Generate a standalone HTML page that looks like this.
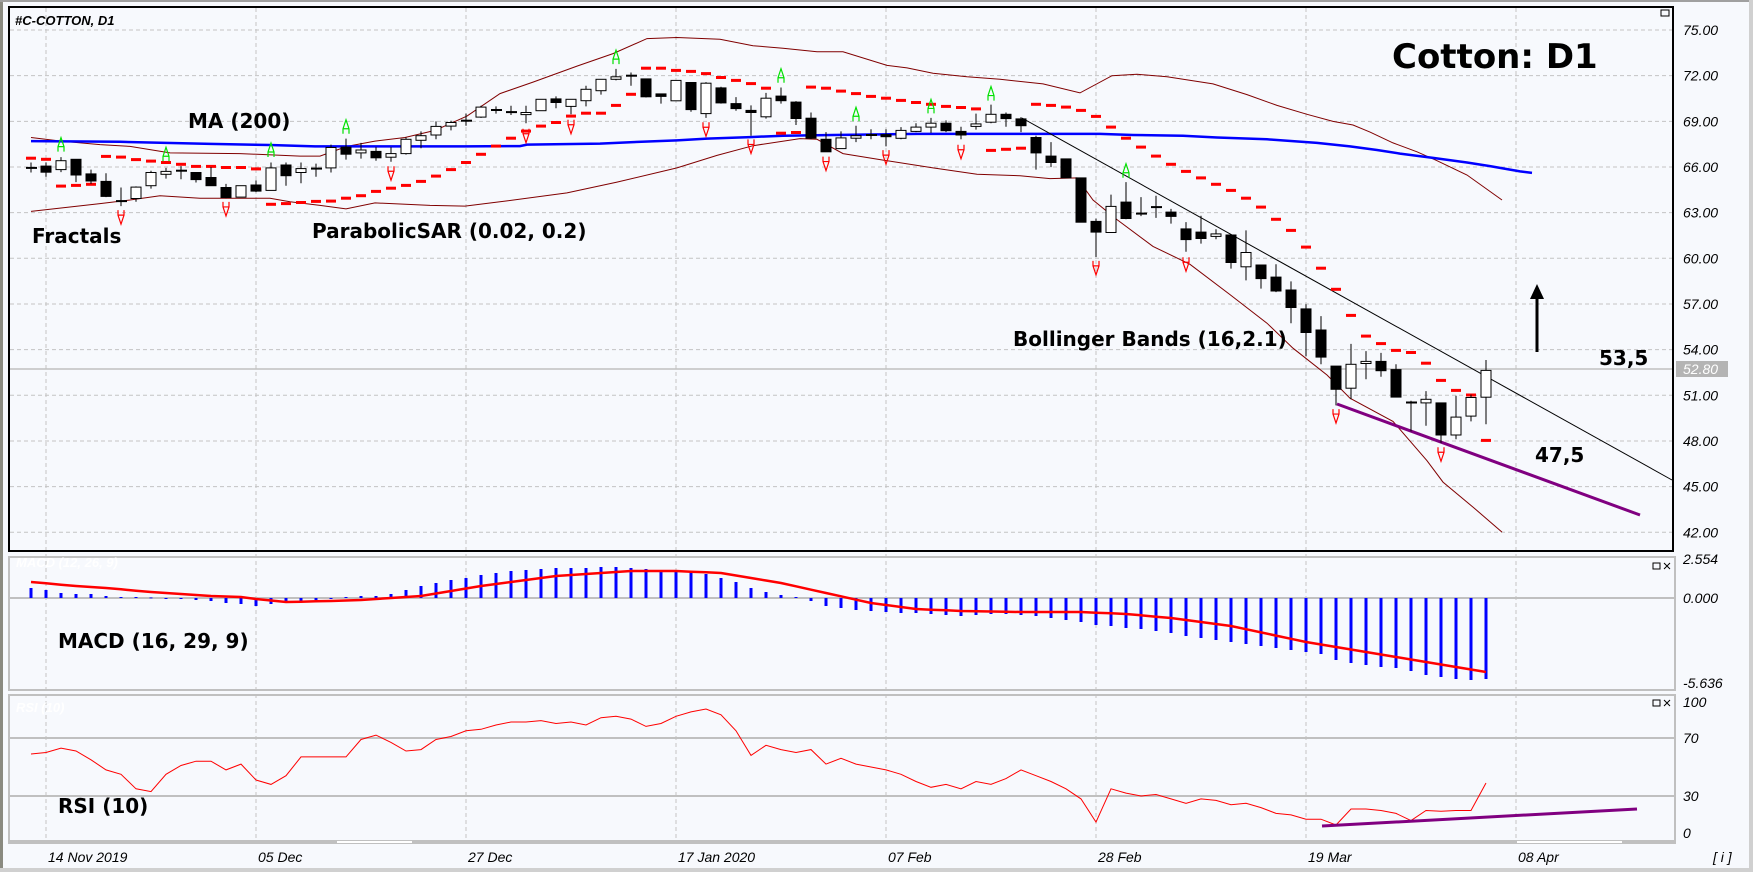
<!DOCTYPE html>
<html><head><meta charset="utf-8">
<style>
html,body{margin:0;padding:0;background:#f7f9fd;}
svg{display:block}
.ax{font-family:"Liberation Sans",sans-serif;font-style:italic;font-size:14px;fill:#000}
.big{font-family:"DejaVu Sans",sans-serif;font-weight:bold;font-size:20px;fill:#000}
</style></head>
<body>
<svg id="s" width="1753" height="872" xmlns="http://www.w3.org/2000/svg"></svg>
<script>
const S=document.getElementById('s');let h='';
const X=i=>31+15*i, D=v=>v/2.8;
h+='<rect x="0" y="0" width="1753" height="872" fill="#f7f9fd"/>';
h+='<rect x="0" y="0" width="3" height="872" fill="#8a8a80"/><rect x="0" y="0" width="1753" height="2" fill="#a0a0a0"/>';
h+='<rect x="0" y="868" width="1753" height="4" fill="#d0d0d0"/><rect x="1749" y="0" width="4" height="872" fill="#d0d0d0"/>';
// grids
const gx=[46,256,466,676,886,1096,1306,1516];
for(let p=75;p>=42;p-=3){const y=30+(75-p)*15.22;h+=`<line x1="10" x2="1672" y1="${y}" y2="${y}" stroke="#c4c4c4" stroke-dasharray="4,3"/>`;
h+=`<text class="ax" x="1683" y="${y+5}">${p.toFixed(2)}</text>`;}
gx.forEach(x=>{h+=`<line x1="${x}" x2="${x}" y1="8" y2="843" stroke="#c4c4c4" stroke-dasharray="4,3"/>`;});
// panels
h+='<rect x="9" y="557" width="1666" height="133" fill="none" stroke="#c0c0c0" stroke-width="2"/>';
h+='<rect x="9" y="695" width="1666" height="148" fill="none" stroke="#c0c0c0" stroke-width="2"/>';
h+='<line x1="10" x2="1674" y1="598" y2="598" stroke="#c0c0c0" stroke-width="2"/>';
h+='<line x1="10" x2="1674" y1="738" y2="738" stroke="#c0c0c0" stroke-width="2"/><line x1="10" x2="1674" y1="796" y2="796" stroke="#c0c0c0" stroke-width="2"/>';
h+='<rect x="10" y="840" width="1664" height="4" fill="#c0c0c0"/><rect x="337" y="841" width="75" height="2" fill="#fff"/><rect x="1517" y="841" width="105" height="2" fill="#fff"/>';
// price line
h+='<line x1="10" x2="1672" y1="369" y2="369" stroke="#c0c0c0" stroke-width="1.5"/>';
h+='<rect x="1676" y="361" width="52" height="16" fill="#b4b4b4"/><text class="ax" x="1683" y="374" fill="#fff" style="fill:#fff">52.80</text>';
// bollinger
const bu=[[31,385],[61,395],[100,405],[130,410],[170,428],[240,430],[300,437],[320,437],[347,410],[375,395],[405,385],[435,365],[467,325],[500,262],[533,230],[577,185],[613,150],[647,108],[677,105],[720,110],[753,128],[783,135],[817,145],[843,145],[887,183],[907,190],[933,205],[967,215],[1000,222],[1043,235],[1080,260],[1112,212],[1137,208],[1167,215],[1213,235],[1247,265],[1277,295],[1307,320],[1333,340],[1353,350],[1370,370],[1393,400],[1417,425],[1437,450],[1467,490],[1502,560]];
const bl=[[31,592],[100,570],[130,560],[160,548],[200,555],[270,555],[290,565],[320,575],[346,585],[375,568],[430,575],[465,577],[500,565],[567,540],[617,510],[677,470],[717,435],[753,408],[800,388],[817,390],[843,430],[887,450],[933,470],[977,488],[1020,492],[1050,500],[1077,498],[1093,560],[1117,615],[1153,690],[1190,740],[1230,825],[1267,905],[1293,975],[1327,1050],[1350,1115],[1393,1180],[1427,1290],[1443,1350],[1473,1420],[1502,1490]];
const pl=a=>a.map(p=>p[0]+','+D(p[1]).toFixed(1)).join(' ');
h+=`<polyline points="${pl(bu)}" fill="none" stroke="#800000" stroke-width="1"/>`;
h+=`<polyline points="${pl(bl)}" fill="none" stroke="#800000" stroke-width="1"/>`;
const ma=[[31,395],[120,397],[210,403],[270,406],[315,410],[465,410],[520,409],[527,405],[600,402],[633,398],[677,393],[707,388],[750,384],[783,380],[833,378],[917,375],[1100,375],[1133,378],[1183,380],[1217,385],[1267,390],[1317,400],[1350,410],[1377,420],[1400,430],[1433,442],[1467,455],[1490,465],[1520,480],[1532,484]];
h+=`<polyline points="${pl(ma)}" fill="none" stroke="#0000ff" stroke-width="2.5"/>`;
// trend lines
h+='<line x1="1022" y1="118" x2="1672" y2="480" stroke="#000" stroke-width="1"/>';
h+='<line x1="1337" y1="404" x2="1640" y2="515" stroke="#800080" stroke-width="3"/>';
// candles
const C=[[468,472,455,483,'c'],[465,482,455,495,'b'],[450,475,440,482,'w'],[446,490,446,510,'b'],[487,507,475,515,'b'],[508,550,485,552,'b'],[561,565,525,577,'c'],[524,556,522,565,'w'],[483,520,478,528,'w'],[480,488,470,500,'w'],[476,480,465,502,'c'],[483,503,483,511,'b'],[497,520,468,520,'b'],[525,553,515,555,'b'],[520,552,520,552,'w'],[518,535,505,538,'b'],[470,533,455,533,'w'],[462,492,455,520,'b'],[472,483,455,513,'w'],[470,474,458,495,'c'],[413,470,405,483,'w'],[412,432,388,447,'b'],[420,428,400,444,'w'],[424,442,412,450,'b'],[430,440,412,453,'w'],[390,430,385,433,'w'],[380,393,368,415,'w'],[354,378,340,390,'w'],[343,353,338,365,'w'],[336,340,318,352,'c'],[300,328,296,330,'w'],[306,310,298,318,'c'],[312,316,296,322,'c'],[315,321,296,345,'w'],[278,310,278,310,'w'],[277,287,270,303,'b'],[278,298,278,320,'w'],[250,282,240,298,'w'],[222,254,222,265,'w'],[215,222,193,225,'w'],[210,214,203,240,'c'],[221,271,221,273,'b'],[263,270,263,290,'b'],[225,282,225,282,'w'],[231,307,231,313,'b'],[233,318,230,330,'w'],[246,288,243,290,'b'],[290,304,272,310,'b'],[309,315,295,380,'b'],[275,327,260,332,'w'],[269,282,245,290,'b'],[286,332,283,350,'b'],[331,387,315,390,'b'],[390,425,370,425,'b'],[386,416,368,416,'w'],[380,387,352,398,'w'],[376,380,362,390,'c'],[377,383,362,410,'b'],[365,387,356,390,'w'],[356,368,345,370,'w'],[345,356,330,372,'w'],[345,366,337,370,'b'],[368,378,355,390,'b'],[347,354,318,363,'w'],[320,342,293,345,'w'],[320,332,315,355,'b'],[333,352,328,370,'b'],[385,428,380,475,'b'],[437,455,398,468,'b'],[445,498,445,498,'b'],[498,622,498,622,'b'],[620,650,612,720,'b'],[578,651,545,651,'w'],[566,612,510,614,'b'],[596,600,552,605,'c'],[578,582,548,610,'c'],[594,606,585,626,'b'],[641,671,622,705,'b'],[650,668,604,682,'b'],[655,662,642,670,'w'],[658,735,658,752,'b'],[707,747,645,785,'w'],[742,780,742,808,'b'],[776,815,740,818,'b'],[812,861,788,905,'b'],[865,931,852,998,'b'],[924,1000,885,1020,'b'],[1025,1090,1025,1135,'b'],[1020,1087,963,1118,'w'],[1012,1018,983,1062,'w'],[1012,1038,988,1055,'b'],[1035,1112,1020,1112,'b'],[1125,1129,1122,1208,'c'],[1118,1128,1095,1192,'w'],[1128,1218,1128,1240,'b'],[1168,1218,1108,1230,'w'],[1113,1165,1105,1180,'w'],[1037,1112,1008,1188,'w']];
// SAR
const SAR=[443,446,521,519,516,438,440,447,451,455,460,466,466,469,469,473,572,570,567,564,563,555,548,536,527,519,508,493,475,455,432,409,387,367,353,343,325,317,317,295,264,191,191,197,200,206,217,225,234,247,373,371,244,247,255,262,270,275,281,287,292,298,301,305,421,418,415,292,295,300,309,326,356,387,412,437,460,480,498,516,533,555,580,614,645,692,751,810,883,941,962,981,987,1017,1065,1093,1106,1233];
SAR.forEach((v,i)=>{h+=`<rect x="${X(i)-5}" y="${(D(v)-1.5).toFixed(1)}" width="10" height="3" fill="#ff0000"/>`;});
C.forEach((c,i)=>{const x=X(i);let bt=D(c[0]),bb=D(c[1]),wt=D(c[2]),wb=D(c[3]);
h+=`<line x1="${x}" x2="${x}" y1="${wt.toFixed(1)}" y2="${wb.toFixed(1)}" stroke="#000"/>`;
if(c[4]=='c'){h+=`<rect x="${x-5}" y="${((bt+bb)/2-1).toFixed(1)}" width="11" height="2" fill="#000"/>`;}
else h+=`<rect x="${x-5}" y="${bt.toFixed(1)}" width="10" height="${Math.max(1,bb-bt).toFixed(1)}" fill="${c[4]=='w'?'#fff':'#000'}" stroke="#000"/>`;});
// fractals
const up=[[2,405],[9,432],[16,420],[21,355],[39,160],[50,212],[55,320],[60,298],[64,262],[73,478]];
const dn=[[6,608],[13,585],[24,485],[33,380],[36,355],[45,362],[48,410],[53,458],[57,440],[62,425],[71,750],[77,740],[87,1165],[94,1272]];
up.forEach(([i,v])=>{const x=X(i),y=D(v);h+=`<path d="M${x-3},${y+7} L${x-3},${y+2} L${x},${y-7} L${x+3},${y+2} L${x+3},${y+7} M${x-3},${y+2} L${x+3},${y+2}" fill="none" stroke="#00e000" stroke-width="1.2"/>`;});
dn.forEach(([i,v])=>{const x=X(i),y=D(v);h+=`<path d="M${x-3},${y-7} L${x-3},${y-2} L${x},${y+7} L${x+3},${y-2} L${x+3},${y-7} M${x-3},${y-2} L${x+3},${y-2}" fill="none" stroke="#ff0000" stroke-width="1.2"/>`;});
// main frame
h+='<rect x="9" y="7" width="1664" height="544" fill="none" stroke="#000" stroke-width="2"/>';
h+='<rect x="1661" y="10" width="8" height="6" fill="none" stroke="#000"/>';
// MACD
function interp(pts,n){const o=[];for(let i=0;i<n;i++){let k=0;while(k<pts.length-2&&pts[k+1][0]<i)k++;const [a,va]=pts[k],[b,vb]=pts[k+1];o.push(i<=a?va:(i>=b?vb:va+(vb-va)*(i-a)/(b-a)));}return o;}
const hist=[10,8,5,4,4,2,1,1,0.5,-1,-1,-2,-3,-5,-6,-8,-6,-5,-3,-2,-1,1,2,2,4,8,12,15,18,20,23,25,27,28,29,30,30,30,31,31,30,29,28,28,26,24,20,16,10,6,3,1,-3,-8,-10,-12,-13,-14,-15,-15,-16,-17,-18,-17,-16,-16,-17,-18,-20,-22,-24,-27,-28,-30,-31,-33,-35,-38,-40,-42,-44,-46,-48,-50,-52,-54,-56,-62,-65,-67,-69,-70,-73,-77,-79,-81,-82,-81];
hist.forEach((v,i)=>{const x=X(i);const y=v>0?598-v:598;h+=`<rect x="${x-1.5}" y="${y}" width="3" height="${Math.max(0.8,Math.abs(v))}" fill="#0000ff"/>`;});
const sig=interp([[0,16],[3,12],[5,10],[8,6],[10,4],[12,2],[14,1],[15,-1],[17,-4],[20,-3],[22,-2],[24,0],[26,2],[28,7],[30,12],[31,14],[35,22],[40,27],[43,27],[46,25],[50,15],[53,5],[56,-5],[59,-11],[62,-13],[66,-14],[70,-14],[73,-16],[76,-20],[80,-28],[85,-44],[97,-74]],98);
h+=`<polyline points="${sig.map((v,i)=>X(i)+','+(598-v).toFixed(1)).join(' ')}" fill="none" stroke="#ff0000" stroke-width="2.5"/>`;
h+='<text x="16" y="567" style="font-family:Liberation Sans,sans-serif;font-style:italic;font-weight:bold;font-size:13px;fill:#fff">MACD (12, 26, 9)</text>';
h+='<text class="ax" x="1683" y="564">2.554</text><text class="ax" x="1683" y="603">0.000</text><text class="ax" x="1683" y="688">-5.636</text>';
h+='<rect x="1653" y="563" width="7" height="6" fill="none" stroke="#000"/><path d="M1664,563 l6,6 M1670,563 l-6,6" stroke="#000"/>';
// RSI
const rsi=[59,60,63,61,55,48,45,35,33,45,51,54,54,48,52,41,38,44,57,57,57,57,69,72,67,61,62,69,71,75,76,79,81,81,82,80,81,79,84,85,83,78,80,85,88,90,86,75,58,65,62,60,62,52,56,52,50,48,45,40,36,38,35,40,38,42,48,44,40,35,28,12,35,32,30,31,28,25,28,27,24,25,22,18,17,14,14,10,21,21,20,18,13,20,19.5,20,20,39];
h+=`<polyline points="${rsi.map((v,i)=>X(i)+','+(839.5-v*1.45).toFixed(1)).join(' ')}" fill="none" stroke="#ff0000" stroke-width="1"/>`;
h+='<line x1="1322" y1="826" x2="1637" y2="809" stroke="#800080" stroke-width="3"/>';
h+='<text x="16" y="712" style="font-family:Liberation Sans,sans-serif;font-style:italic;font-weight:bold;font-size:13px;fill:#fff">RSI (10)</text>';
h+='<text class="ax" x="1683" y="707">100</text><text class="ax" x="1683" y="743">70</text><text class="ax" x="1683" y="801">30</text><text class="ax" x="1683" y="838">0</text>';
h+='<rect x="1653" y="700" width="7" height="6" fill="none" stroke="#000"/><path d="M1664,700 l6,6 M1670,700 l-6,6" stroke="#000"/>';
// dates
[['14 Nov 2019',48],['05 Dec',258],['27 Dec',468],['17 Jan 2020',678],['07 Feb',888],['28 Feb',1098],['19 Mar',1308],['08 Apr',1518]].forEach(([t,x])=>{h+=`<text class="ax" x="${x}" y="862">${t}</text>`;});
h+='<text class="ax" x="1713" y="862">[ i ]</text>';
// labels
h+='<text x="15" y="25" style="font-family:Liberation Sans,sans-serif;font-style:italic;font-weight:bold;font-size:13px;fill:#000">#C-COTTON, D1</text>';
const L=(t,x,y,s)=>{h+=`<text class="big" x="${x}" y="${y}" dominant-baseline="central"${s?` style="font-size:${s}px"`:''}>${t}</text>`;};
L('MA (200)',188,121);L('Fractals',32,236);L('ParabolicSAR (0.02, 0.2)',312,231);L('Bollinger Bands (16,2.1)',1013,339);
L('Cotton: D1',1392,57,34);L('53,5',1599,358);L('47,5',1535,455);L('MACD (16, 29, 9)',58,641);L('RSI (10)',58,806);
// arrow
h+='<line x1="1537" y1="352" x2="1537" y2="296" stroke="#000" stroke-width="3"/><path d="M1530,299 L1537,284 L1544,299 Z" fill="#000"/>';
S.innerHTML=h;
</script>
</body></html>
